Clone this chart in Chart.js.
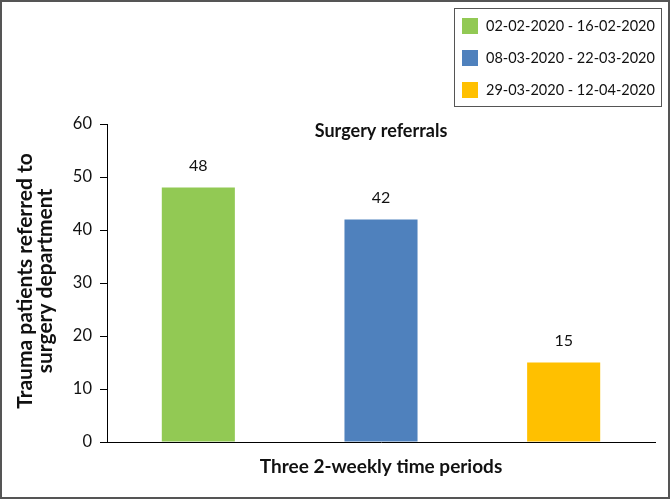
<!DOCTYPE html>
<html lang="en">
<head>
    <meta charset="UTF-8">
    <title>Surgery referrals</title>
    <script src="https://cdn.jsdelivr.net/npm/chart.js"></script>
</head>
<body style="margin:0;background:#fff;">
    <canvas id="myChart" width="670" height="499"></canvas>

    <script>
        // data
        const categories = ['02-02-2020 - 16-02-2020', '08-03-2020 - 22-03-2020', '29-03-2020 - 12-04-2020'];
        const referrals = [48, 42, 15];
        const barColors = ['#92C954', '#4F81BD', '#FFC000'];
        const yTicks = [0, 10, 20, 30, 40, 50, 60];

        const chartTitle = 'Surgery referrals';
        const yTitle = ['Trauma patients referred to', 'surgery department'];
        const xTitle = 'Three 2-weekly time periods';

        const FONT = 'Lato, "Open Sans", sans-serif';

        // titles, value labels, legend box and frame
        const extras = {
            id: 'extras',
            afterDraw(chart) {
                const c = chart.ctx;
                const area = chart.chartArea;
                c.save();

                // outer frame
                c.strokeStyle = '#555';
                c.lineWidth = 2;
                c.strokeRect(1, 1, chart.width - 2, chart.height - 2);

                // chart title inside plot
                c.fillStyle = '#111';
                c.textAlign = 'center';
                c.textBaseline = 'middle';
                c.font = 'bold 18px ' + FONT;
                c.fillText(chartTitle, (area.left + area.right) / 2, 131);

                // x title
                c.font = 'bold 19px ' + FONT;
                c.fillText(xTitle, (area.left + area.right) / 2, 467);

                // y title (rotated, two lines)
                c.save();
                c.translate(25, 281);
                c.rotate(-Math.PI / 2);
                c.font = 'bold 21px ' + FONT;
                c.fillText(yTitle[0], 0, 0);
                c.fillText(yTitle[1], 0, 20);
                c.restore();

                // value labels
                c.font = '16px ' + FONT;
                c.fillStyle = '#111';
                const meta = chart.getDatasetMeta(0);
                meta.data.forEach((bar, i) => {
                    c.fillText(String(referrals[i]), bar.x, bar.y - 22);
                });

                // legend
                c.strokeStyle = '#555';
                c.lineWidth = 1;
                c.strokeRect(454.5, 8.5, 207, 98);
                c.textAlign = 'left';
                c.font = '14.5px ' + FONT;
                categories.forEach((lab, i) => {
                    const cy = 26 + i * 32;
                    c.fillStyle = barColors[i];
                    c.fillRect(462, cy - 8, 16, 16);
                    c.fillStyle = '#111';
                    c.fillText(lab, 486, cy);
                });

                c.restore();
            }
        };

        new Chart(document.getElementById('myChart'), {
            type: 'bar',
            data: {
                labels: categories,
                datasets: [{
                    label: 'Surgery referrals',
                    data: referrals,
                    backgroundColor: barColors,
                    borderWidth: 0,
                    barPercentage: 0.4,
                    categoryPercentage: 1
                }]
            },
            options: {
                responsive: false,
                animation: false,
                layout: { padding: { top: 124, right: 15, left: 0, bottom: 0 } },
                plugins: {
                    legend: { display: false },
                    tooltip: { enabled: false }
                },
                scales: {
                    x: {
                        grid: { display: false },
                        ticks: { display: false },
                        border: { color: '#000', width: 1 },
                        afterFit: (s) => { s.height = 57; }
                    },
                    y: {
                        min: 0,
                        max: 60,
                        afterBuildTicks: (s) => { s.ticks = yTicks.map(v => ({ value: v })); },
                        ticks: { color: '#111', font: { family: FONT, size: 16.5 }, padding: 8 },
                        grid: { drawOnChartArea: false, tickLength: 7, color: '#000' },
                        border: { color: '#000', width: 1 },
                        afterFit: (s) => { s.width = 107; }
                    }
                }
            },
            plugins: [extras]
        });
    </script>
</body>
</html>
